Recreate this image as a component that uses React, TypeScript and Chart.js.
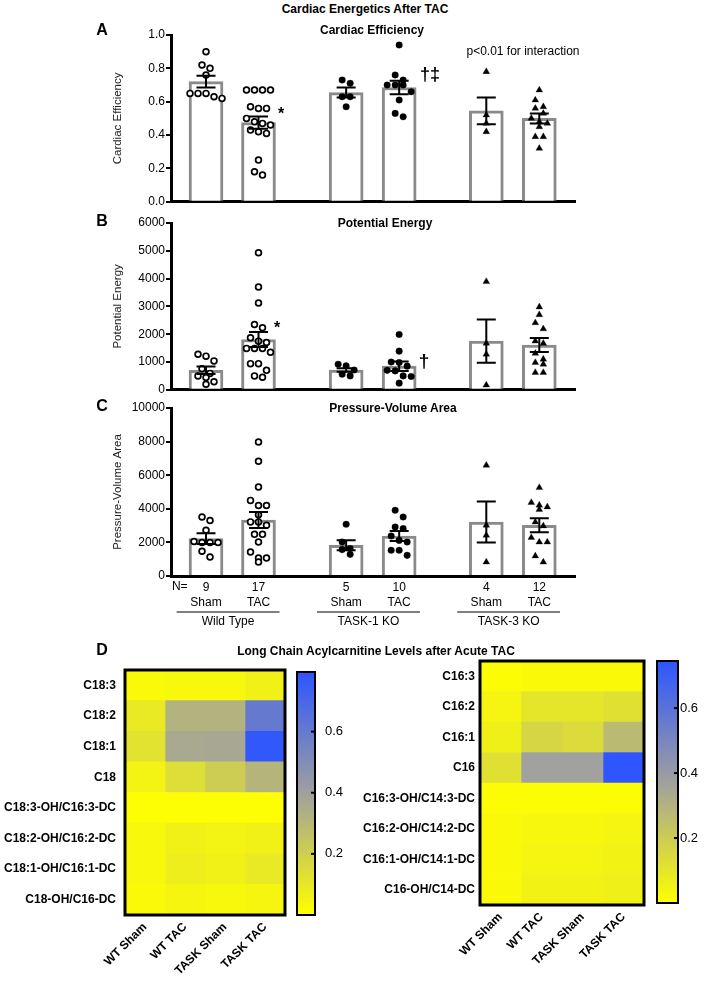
import React, { useEffect, useRef } from 'react';
import { Chart, registerables } from 'chart.js';

Chart.register(...registerables);

const FONT = "'Liberation Sans', Arial, Helvetica, sans-serif";
Chart.defaults.font.family = FONT;
Chart.defaults.color = '#000';

// ---------------- Panels A–C : groups ----------------
const groupNames = ['Sham', 'TAC', 'Sham', 'TAC', 'Sham', 'TAC'];
const groupN = ['9', '17', '5', '10', '4', '12'];
const strainNames = ['Wild Type', 'TASK-1 KO', 'TASK-3 KO'];
const groupX = [0, 1, 2.67, 3.68, 5.34, 6.35];

// ---------------- A: Cardiac Efficiency ----------------
const ceTicks = [0, 0.2, 0.4, 0.6, 0.8, 1.0];
const ceWTSham = [0.9, 0.82, 0.8, 0.76, 0.65, 0.65, 0.65, 0.63, 0.62];
const ceWTTAC = [0.67, 0.67, 0.67, 0.67, 0.57, 0.56, 0.56, 0.5, 0.48, 0.47, 0.46, 0.43, 0.42, 0.41, 0.25, 0.18, 0.16];
const ceT1Sham = [0.73, 0.71, 0.63, 0.63, 0.57];
const ceT1TAC = [0.94, 0.76, 0.73, 0.7, 0.7, 0.7, 0.66, 0.61, 0.53, 0.51];
const ceT3Sham = [0.78, 0.52, 0.47, 0.42];
const ceT3TAC = [0.67, 0.61, 0.57, 0.56, 0.53, 0.5, 0.48, 0.47, 0.45, 0.39, 0.39, 0.32];
const ceMean = [0.72, 0.475, 0.655, 0.685, 0.545, 0.5];
const ceSem = [0.035, 0.037, 0.03, 0.04, 0.08, 0.03];

// ---------------- B: Potential Energy ----------------
const peTicks = [0, 1000, 2000, 3000, 4000, 5000, 6000];
const peWTSham = [1280, 1210, 1040, 760, 590, 500, 440, 290, 200];
const peWTTAC = [4930, 3700, 3120, 2350, 2230, 1870, 1750, 1700, 1490, 1490, 1490, 1350, 940, 940, 700, 500, 450];
const peT1Sham = [920, 860, 710, 560, 500];
const peT1TAC = [1990, 1390, 1000, 980, 850, 700, 680, 500, 480, 240];
const peT3Sham = [3890, 1670, 1280, 170];
const peT3TAC = [2980, 2700, 2410, 2190, 1750, 1670, 1310, 1100, 980, 920, 620, 620];
const peMean = [700, 1810, 710, 850, 1750, 1610];
const peSem = [135, 270, 65, 170, 780, 250];

// ---------------- C: Pressure-Volume Area ----------------
const pvaTicks = [0, 2000, 4000, 6000, 8000, 10000];
const pvaWTSham = [3510, 3300, 2720, 2050, 1990, 1990, 1990, 1470, 1130];
const pvaWTTAC = [7980, 6830, 5300, 4500, 4200, 4200, 3650, 3220, 3220, 3020, 2480, 2480, 2020, 1430, 1070, 1070, 830];
const pvaT1Sham = [3080, 2020, 1630, 1570, 1290];
const pvaT1TAC = [3910, 3510, 2920, 2820, 2380, 2120, 2020, 1530, 1530, 1230];
const pvaT3Sham = [6590, 3020, 2420, 830];
const pvaT3TAC = [5260, 4370, 4210, 4110, 3950, 3210, 2980, 2290, 2020, 2020, 1190, 830];
const pvaMean = [2230, 3330, 1830, 2380, 3210, 3020];
const pvaSem = [320, 480, 300, 300, 1220, 420];

// ---------------- D: heatmaps ----------------
const hmCols = ['WT Sham', 'WT TAC', 'TASK Sham', 'TASK TAC'];
const c18Rows = ['C18:3', 'C18:2', 'C18:1', 'C18', 'C18:3-OH/C16:3-DC', 'C18:2-OH/C16:2-DC', 'C18:1-OH/C16:1-DC', 'C18-OH/C16-DC'];
const c18WTSham = [0.02, 0.09, 0.12, 0.05, 0.01, 0.03, 0.03, 0.02];
const c18WTTAC = [0.03, 0.32, 0.36, 0.14, 0.01, 0.06, 0.07, 0.04];
const c18TASKSham = [0.03, 0.32, 0.37, 0.21, 0.01, 0.05, 0.06, 0.03];
const c18TASKTAC = [0.06, 0.6, 0.78, 0.31, 0.01, 0.06, 0.09, 0.04];
const c18Range = [0, 0.795];

const c16Rows = ['C16:3', 'C16:2', 'C16:1', 'C16', 'C16:3-OH/C14:3-DC', 'C16:2-OH/C14:2-DC', 'C16:1-OH/C14:1-DC', 'C16-OH/C14-DC'];
const c16WTSham = [0.01, 0.04, 0.06, 0.12, 0.01, 0.02, 0.02, 0.02];
const c16WTTAC = [0.02, 0.1, 0.16, 0.37, 0.01, 0.03, 0.04, 0.05];
const c16TASKSham = [0.02, 0.1, 0.14, 0.37, 0.01, 0.03, 0.04, 0.05];
const c16TASKTAC = [0.02, 0.12, 0.27, 0.74, 0.01, 0.04, 0.05, 0.06];
const c16Range = [0, 0.745];

const cbTicks = [0.2, 0.4, 0.6];

// ---------------- layout constants ----------------
const X_MIN = -0.667;
const X_MAX = 7.03;
const PX_PER_X = 52.5;
const PLOT_H = 168;
const DOT = 8;

function swarm(values: number[], center: number, yMax: number) {
  const pxPerY = PLOT_H / yMax;
  const sorted = [...values].sort((a, b) => b - a);
  const out: { x: number; y: number }[] = [];
  let i = 0;
  while (i < sorted.length) {
    const row = [sorted[i]];
    let j = i + 1;
    while (j < sorted.length && (sorted[i] - sorted[j]) * pxPerY < DOT * 0.85) {
      row.push(sorted[j]);
      j++;
    }
    row.forEach((v, k) => out.push({ x: center + ((k - (row.length - 1) / 2) * DOT) / PX_PER_X, y: v }));
    i = j;
  }
  return out;
}

function markStyle(g: number) {
  if (g < 2) return { pointStyle: 'circle', pointRadius: 2.9, pointBackgroundColor: '#fff', pointBorderColor: '#000', pointBorderWidth: 1.7 };
  if (g < 4) return { pointStyle: 'circle', pointRadius: 3.3, pointBackgroundColor: '#000', pointBorderColor: '#000', pointBorderWidth: 0.3 };
  return { pointStyle: 'triangle', pointRadius: 3.9, pointBackgroundColor: '#000', pointBorderColor: '#000', pointBorderWidth: 0.3 };
}

function errPlugin(means: number[], sems: number[]) {
  return {
    id: 'errbars',
    afterDatasetsDraw(chart: any) {
      const { ctx } = chart;
      const xs = chart.scales.x;
      const ys = chart.scales.y;
      ctx.save();
      ctx.strokeStyle = '#000';
      ctx.lineWidth = 2;
      means.forEach((m, i) => {
        const x = xs.getPixelForValue(groupX[i]);
        const y1 = ys.getPixelForValue(m + sems[i]);
        const y2 = ys.getPixelForValue(m - sems[i]);
        ctx.beginPath();
        ctx.moveTo(x, y1);
        ctx.lineTo(x, y2);
        ctx.moveTo(x - 9.5, y1);
        ctx.lineTo(x + 9.5, y1);
        ctx.moveTo(x - 9.5, y2);
        ctx.lineTo(x + 9.5, y2);
        ctx.stroke();
      });
      ctx.restore();
    },
  };
}

const groupLabelPlugin = {
  id: 'groupLabels',
  afterDraw(chart: any) {
    const { ctx, chartArea } = chart;
    const xs = chart.scales.x;
    ctx.save();
    ctx.fillStyle = '#000';
    ctx.strokeStyle = '#000';
    ctx.font = `12px ${FONT}`;
    ctx.textAlign = 'center';
    ctx.textBaseline = 'middle';
    ctx.fillText('N=', xs.getPixelForValue(-0.5), chartArea.bottom + 11);
    strainNames.forEach((name, k) => {
      const c = (groupX[2 * k] + groupX[2 * k + 1]) / 2 - 0.08;
      const l = xs.getPixelForValue(c - 0.98);
      const r = xs.getPixelForValue(c + 0.98);
      const yLine = chartArea.bottom + 36;
      ctx.lineWidth = 1.2;
      ctx.beginPath();
      ctx.moveTo(l, yLine);
      ctx.lineTo(r, yLine);
      ctx.stroke();
      ctx.fillText(name, (l + r) / 2, yLine + 10);
    });
    ctx.restore();
  },
};

type Panel = {
  yTitle: string;
  yMax: number;
  ticks: number[];
  decimals: number;
  series: number[][];
  means: number[];
  sems: number[];
  padTop: number;
  padBottom: number;
  xH: number;
  withLabels: boolean;
};

function panelConfig(p: Panel) {
  const datasets: any[] = [
    {
      type: 'bar',
      data: p.means.map((m, i) => ({ x: groupX[i], y: m })),
      backgroundColor: '#ffffff',
      borderColor: '#8a8a8a',
      borderWidth: 3,
      barThickness: 34,
      order: 2,
    },
  ];
  p.series.forEach((vals, g) => {
    datasets.push({ type: 'scatter', data: swarm(vals, groupX[g], p.yMax), order: 1, ...markStyle(g) });
  });
  return {
    type: 'bar',
    data: { datasets },
    options: {
      responsive: false,
      animation: false,
      events: [],
      layout: { padding: { top: p.padTop, right: 10, bottom: p.padBottom, left: 0 } },
      plugins: { legend: { display: false }, tooltip: { enabled: false } },
      scales: {
        x: {
          type: 'linear',
          min: X_MIN,
          max: X_MAX,
          offset: false,
          grid: { display: false, drawTicks: false },
          border: { display: true, width: 3, color: '#000' },
          afterBuildTicks: (s: any) => {
            s.ticks = groupX.map((v) => ({ value: v }));
          },
          ticks: {
            display: p.withLabels,
            autoSkip: false,
            minRotation: 0,
            maxRotation: 0,
            padding: 4.5,
            color: '#000',
            font: { size: 12, lineHeight: 1.25 },
            callback: (_v: any, i: number) => [groupN[i], groupNames[i]],
          },
          afterFit: (s: any) => {
            s.height = p.xH;
          },
        },
        y: {
          type: 'linear',
          min: 0,
          max: p.yMax,
          afterBuildTicks: (s: any) => {
            s.ticks = p.ticks.map((v) => ({ value: v }));
          },
          ticks: { font: { size: 12 }, color: '#000', padding: 1, callback: (v: any) => Number(v).toFixed(p.decimals) },
          grid: { display: true, drawOnChartArea: false, drawTicks: true, tickLength: 5, color: '#000', lineWidth: 2 },
          border: { display: true, width: 3, color: '#000' },
          title: { display: true, text: p.yTitle, color: '#222', font: { size: 11.5 }, padding: { top: 51, bottom: 0 } },
          afterFit: (s: any) => {
            s.width = 111;
          },
        },
      },
    },
    plugins: p.withLabels ? [errPlugin(p.means, p.sems), groupLabelPlugin] : [errPlugin(p.means, p.sems)],
  };
}

const heatStops: [number, number[]][] = [
  [0, [255, 255, 0]],
  [0.5, [160, 160, 158]],
  [1, [45, 85, 255]],
];

function heatColor(v: number, range: number[]) {
  let t = (v - range[0]) / (range[1] - range[0]);
  t = Math.max(0, Math.min(1, t));
  for (let i = 1; i < heatStops.length; i++) {
    const [t0, c0] = heatStops[i - 1];
    const [t1, c1] = heatStops[i];
    if (t <= t1) {
      const f = (t - t0) / (t1 - t0);
      const c = c0.map((a, k) => Math.round(a + (c1[k] - a) * f));
      return `rgb(${c[0]},${c[1]},${c[2]})`;
    }
  }
  const c = heatStops[heatStops.length - 1][1];
  return `rgb(${c[0]},${c[1]},${c[2]})`;
}

function framePlugin(w: number) {
  return {
    id: 'frame',
    afterDatasetsDraw(chart: any) {
      const { ctx, chartArea: a } = chart;
      ctx.save();
      ctx.lineWidth = w;
      ctx.strokeStyle = '#000';
      ctx.strokeRect(a.left, a.top, a.right - a.left, a.bottom - a.top);
      ctx.restore();
    },
  };
}

function heatConfig(rows: string[], colValues: number[][], range: number[], yW: number, xH: number, yPad: number, pad: any) {
  return {
    type: 'bar',
    data: {
      labels: rows,
      datasets: colValues.map((vals) => ({
        data: rows.map(() => 1),
        backgroundColor: vals.map((v) => heatColor(v, range)),
        borderWidth: 0,
        barPercentage: 1,
        categoryPercentage: 1,
      })),
    },
    options: {
      indexAxis: 'y',
      responsive: false,
      animation: false,
      events: [],
      layout: { padding: pad },
      plugins: { legend: { display: false }, tooltip: { enabled: false } },
      scales: {
        x: {
          type: 'linear',
          stacked: true,
          min: 0,
          max: hmCols.length,
          grid: { display: false, drawTicks: false },
          border: { display: false },
          afterBuildTicks: (s: any) => {
            s.ticks = hmCols.map((_c, i) => ({ value: i + 0.5 }));
          },
          ticks: {
            autoSkip: false,
            minRotation: 45,
            maxRotation: 45,
            padding: 5,
            color: '#000',
            font: { size: 12, weight: 'bold' },
            callback: (_v: any, i: number) => hmCols[i],
          },
          afterFit: (s: any) => {
            s.height = xH;
          },
        },
        y: {
          type: 'category',
          stacked: true,
          grid: { display: false, drawTicks: false },
          border: { display: false },
          ticks: { autoSkip: false, padding: yPad, color: '#000', font: { size: 12, weight: 'bold' } },
          afterFit: (s: any) => {
            s.width = yW;
            s.paddingTop = 0;
            s.paddingBottom = 0;
          },
        },
      },
    },
    plugins: [framePlugin(3)],
  };
}

const innerTickPlugin = {
  id: 'innerTicks',
  afterDraw(chart: any) {
    const { ctx, chartArea } = chart;
    const ys = chart.scales.y;
    ctx.save();
    ctx.strokeStyle = '#000';
    ctx.lineWidth = 2;
    ys.ticks.forEach((t: any) => {
      const y = ys.getPixelForValue(t.value);
      ctx.beginPath();
      ctx.moveTo(chartArea.right - 4, y);
      ctx.lineTo(chartArea.right + 1, y);
      ctx.stroke();
    });
    ctx.restore();
  },
};

function colorbarConfig(range: number[], yW: number, labelPad: number, pad: any) {
  return {
    type: 'bar',
    data: {
      labels: [''],
      datasets: [
        {
          data: [range[1]],
          backgroundColor: (c: any) => {
            const chart = c.chart;
            const a = chart.chartArea;
            if (!a) return 'rgb(255,255,0)';
            const g = chart.ctx.createLinearGradient(0, a.bottom, 0, a.top);
            heatStops.forEach(([t, col]) => g.addColorStop(t, `rgb(${col[0]},${col[1]},${col[2]})`));
            return g;
          },
          borderWidth: 0,
          barPercentage: 1,
          categoryPercentage: 1,
        },
      ],
    },
    options: {
      responsive: false,
      animation: false,
      events: [],
      layout: { padding: pad },
      plugins: { legend: { display: false }, tooltip: { enabled: false } },
      scales: {
        x: { display: false },
        y: {
          position: 'right',
          min: range[0],
          max: range[1],
          grid: { display: false, drawTicks: false },
          border: { display: false },
          afterBuildTicks: (s: any) => {
            s.ticks = cbTicks.map((v) => ({ value: v }));
          },
          ticks: { padding: labelPad, color: '#000', font: { size: 13 }, callback: (v: any) => Number(v).toFixed(1) },
          afterFit: (s: any) => {
            s.width = yW;
            s.paddingTop = 0;
            s.paddingBottom = 0;
          },
        },
      },
    },
    plugins: [framePlugin(2), innerTickPlugin],
  };
}

function ChartBox({ left, top, width, height, make }: { left: number; top: number; width: number; height: number; make: () => any }) {
  const ref = useRef<HTMLCanvasElement | null>(null);
  useEffect(() => {
    const chart = new Chart(ref.current as HTMLCanvasElement, make());
    return () => chart.destroy();
  }, []);
  return <canvas ref={ref} width={width} height={height} style={{ position: 'absolute', left, top, width, height }} />;
}

function Txt({ x, y, s, b, children }: { x: number; y: number; s: number; b?: boolean; children: React.ReactNode }) {
  return (
    <div
      style={{
        position: 'absolute',
        left: x,
        top: y,
        transform: 'translate(-50%, -50%)',
        fontSize: s,
        fontWeight: b ? 'bold' : 'normal',
        lineHeight: 1,
        whiteSpace: 'nowrap',
        color: '#000',
      }}
    >
      {children}
    </div>
  );
}

export default function App() {
  const panelA: Panel = {
    yTitle: 'Cardiac Efficiency',
    yMax: 1,
    ticks: ceTicks,
    decimals: 1,
    series: [ceWTSham, ceWTTAC, ceT1Sham, ceT1TAC, ceT3Sham, ceT3TAC],
    means: ceMean,
    sems: ceSem,
    padTop: 15,
    padBottom: 7,
    xH: 0,
    withLabels: false,
  };
  const panelB: Panel = {
    yTitle: 'Potential Energy',
    yMax: 6000,
    ticks: peTicks,
    decimals: 0,
    series: [peWTSham, peWTTAC, peT1Sham, peT1TAC, peT3Sham, peT3TAC],
    means: peMean,
    sems: peSem,
    padTop: 16,
    padBottom: 7,
    xH: 0,
    withLabels: false,
  };
  const panelC: Panel = {
    yTitle: 'Pressure-Volume Area',
    yMax: 10000,
    ticks: pvaTicks,
    decimals: 0,
    series: [pvaWTSham, pvaWTTAC, pvaT1Sham, pvaT1TAC, pvaT3Sham, pvaT3TAC],
    means: pvaMean,
    sems: pvaSem,
    padTop: 16,
    padBottom: 0,
    xH: 55,
    withLabels: true,
  };

  return (
    <div style={{ position: 'absolute', left: 0, top: 0, width: 704, height: 982, background: '#fff', fontFamily: FONT, overflow: 'hidden' }}>
      <ChartBox left={60} top={20} width={525} height={190} make={() => panelConfig(panelA)} />
      <ChartBox left={60} top={207} width={525} height={191} make={() => panelConfig(panelB)} />
      <ChartBox left={60} top={392} width={525} height={239} make={() => panelConfig(panelC)} />
      <ChartBox
        left={0}
        top={660}
        width={290}
        height={322}
        make={() => heatConfig(c18Rows, [c18WTSham, c18WTTAC, c18TASKSham, c18TASKTAC], c18Range, 125, 62, 9, { top: 10, right: 5, bottom: 5, left: 0 })}
      />
      <ChartBox left={290} top={660} width={60} height={270} make={() => colorbarConfig(c18Range, 35, 10, { top: 12, right: 0, bottom: 15, left: 7 })} />
      <ChartBox
        left={350}
        top={655}
        width={300}
        height={327}
        make={() => heatConfig(c16Rows, [c16WTSham, c16WTTAC, c16TASKSham, c16TASKTAC], c16Range, 130, 72, 5, { top: 6, right: 6, bottom: 5, left: 0 })}
      />
      <ChartBox left={650} top={655} width={54} height={260} make={() => colorbarConfig(c16Range, 26, 2, { top: 6, right: 0, bottom: 12, left: 7 })} />

      <Txt x={365} y={9} s={12} b>Cardiac Energetics After TAC</Txt>
      <Txt x={102} y={30} s={16} b>A</Txt>
      <Txt x={102} y={221} s={16} b>B</Txt>
      <Txt x={102} y={406} s={16} b>C</Txt>
      <Txt x={102} y={650} s={16} b>D</Txt>
      <Txt x={372} y={30} s={12} b>Cardiac Efficiency</Txt>
      <Txt x={385} y={223} s={12} b>Potential Energy</Txt>
      <Txt x={393} y={408} s={12} b>Pressure-Volume Area</Txt>
      <Txt x={523} y={51} s={12}>p&lt;0.01 for interaction</Txt>
      <Txt x={281} y={114} s={16} b>*</Txt>
      <Txt x={430} y={74} s={18} b>†‡</Txt>
      <Txt x={277} y={328} s={16} b>*</Txt>
      <Txt x={424} y={360} s={19} b>†</Txt>
      <Txt x={376} y={651} s={12} b>Long Chain Acylcarnitine Levels after Acute TAC</Txt>
    </div>
  );
}
